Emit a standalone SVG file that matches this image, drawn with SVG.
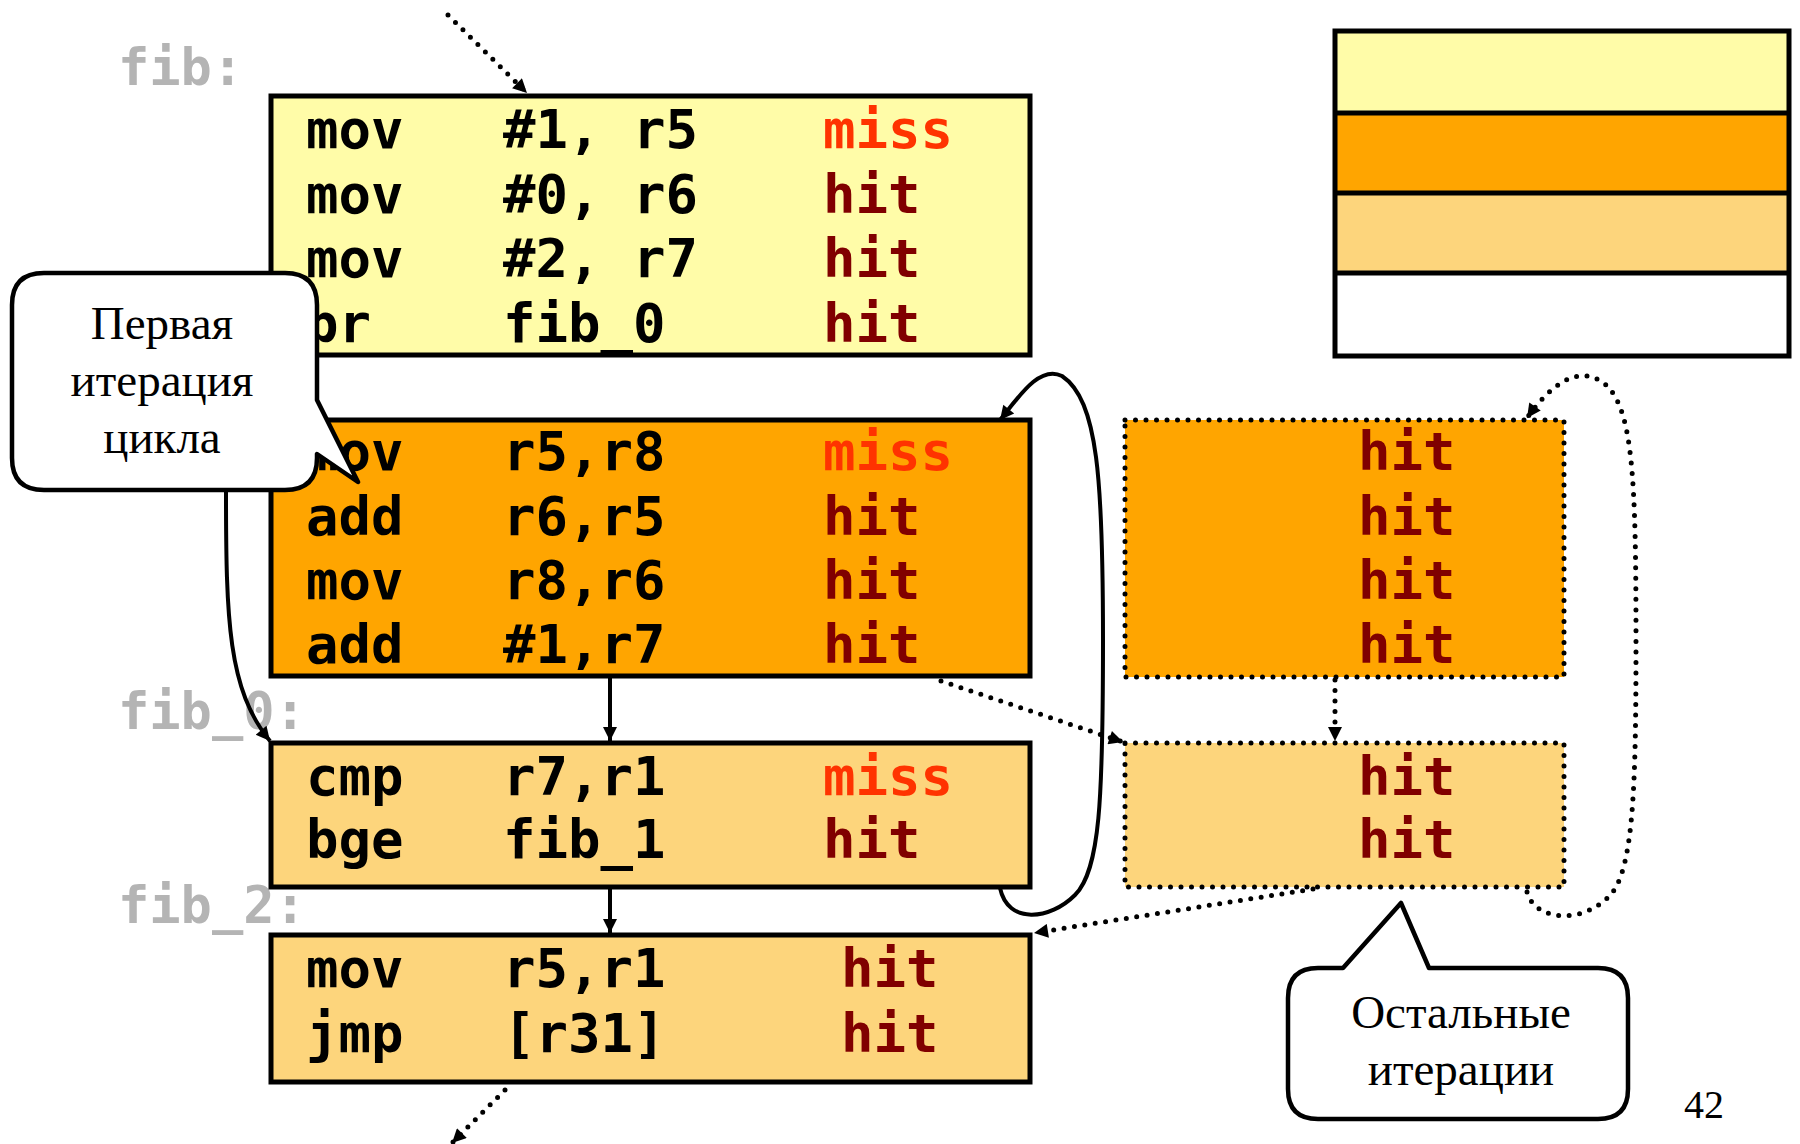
<svg xmlns="http://www.w3.org/2000/svg" width="1800" height="1144" viewBox="0 0 1800 1144">
<style>
.code{font-family:"DejaVu Sans Mono","Liberation Mono",monospace;font-weight:bold;font-size:54px;fill:#000}
.hit{fill:#800000}
.miss{fill:#ff3300}
.lbl{font-family:"DejaVu Sans Mono","Liberation Mono",monospace;font-weight:bold;font-size:52px;fill:#b4b4b4}
.box{stroke:#000;stroke-width:5}
.yel{fill:#fffca8}
.org{fill:#ffa500}
.lor{fill:#fdd57c}
.dbox{stroke:#000;stroke-width:5;stroke-dasharray:0 10.5;stroke-linecap:round}
.dot{fill:none;stroke:#000;stroke-width:5;stroke-dasharray:0 10.5;stroke-linecap:round}
.solid{fill:none;stroke:#000;stroke-width:4}
.callout{fill:#fff;stroke:#000;stroke-width:4.5;stroke-linejoin:round}
.ctext{font-family:"Liberation Serif","Times New Roman",serif;font-size:47px;text-anchor:middle;fill:#000}
</style>
<defs>
<marker id="ah" viewBox="0 0 10 10" refX="10" refY="5" markerWidth="17" markerHeight="14" markerUnits="userSpaceOnUse" orient="auto">
<path d="M0,0 L10,5 L0,10 z" fill="#000"/>
</marker>
</defs>

<g id="labels">
<text class="lbl" x="118" y="85">fib:</text>
<text class="lbl" x="118" y="729">fib_0:</text>
<text class="lbl" x="118" y="923">fib_2:</text>
</g>

<g id="block1">
<rect class="box yel" x="271" y="96" width="759" height="259"/>
<text class="code" x="306" y="148">mov</text><text class="code" x="503" y="148">#1, r5</text><text class="code miss" x="823" y="148">miss</text>
<text class="code" x="306" y="213">mov</text><text class="code" x="503" y="213">#0, r6</text><text class="code hit" x="823" y="213">hit</text>
<text class="code" x="306" y="277">mov</text><text class="code" x="503" y="277">#2, r7</text><text class="code hit" x="823" y="277">hit</text>
<text class="code" x="306" y="342">br</text><text class="code" x="503" y="342">fib_0</text><text class="code hit" x="823" y="342">hit</text>
</g>

<g id="block2">
<rect class="box org" x="271" y="420" width="759" height="256"/>
<text class="code" x="306" y="470">mov</text><text class="code" x="503" y="470">r5,r8</text><text class="code miss" x="823" y="470">miss</text>
<text class="code" x="306" y="535">add</text><text class="code" x="503" y="535">r6,r5</text><text class="code hit" x="823" y="535">hit</text>
<text class="code" x="306" y="599">mov</text><text class="code" x="503" y="599">r8,r6</text><text class="code hit" x="823" y="599">hit</text>
<text class="code" x="306" y="663">add</text><text class="code" x="503" y="663">#1,r7</text><text class="code hit" x="823" y="663">hit</text>
</g>

<g id="block3">
<rect class="box lor" x="271" y="743" width="759" height="144"/>
<text class="code" x="306" y="795">cmp</text><text class="code" x="503" y="795">r7,r1</text><text class="code miss" x="823" y="795">miss</text>
<text class="code" x="306" y="858">bge</text><text class="code" x="503" y="858">fib_1</text><text class="code hit" x="823" y="858">hit</text>
</g>

<g id="block4">
<rect class="box lor" x="271" y="935" width="759" height="147"/>
<text class="code" x="306" y="987">mov</text><text class="code" x="503" y="987">r5,r1</text><text class="code hit" x="841" y="987">hit</text>
<text class="code" x="306" y="1052">jmp</text><text class="code" x="503" y="1052">[r31]</text><text class="code hit" x="841" y="1052">hit</text>
</g>

<g id="loop-body">
<rect class="dbox org" x="1125" y="420" width="439" height="257"/>
<text class="code hit" x="1358" y="470">hit</text>
<text class="code hit" x="1358" y="535">hit</text>
<text class="code hit" x="1358" y="599">hit</text>
<text class="code hit" x="1358" y="663">hit</text>
</g>

<g id="loop-test">
<rect class="dbox lor" x="1125" y="743" width="439" height="144"/>
<text class="code hit" x="1358" y="795">hit</text>
<text class="code hit" x="1358" y="858">hit</text>
</g>

<g id="legend">
<rect class="yel" x="1335" y="31" width="454" height="82"/>
<rect class="org" x="1335" y="113" width="454" height="80"/>
<rect class="lor" x="1335" y="193" width="454" height="80"/>
<rect fill="#fff" x="1335" y="273" width="454" height="83"/>
<line class="box" x1="1335" y1="113" x2="1789" y2="113"/>
<line class="box" x1="1335" y1="193" x2="1789" y2="193"/>
<line class="box" x1="1335" y1="273" x2="1789" y2="273"/>
<rect class="box" fill="none" x="1335" y="31" width="454" height="325"/>
</g>

<g id="connectors">
<path class="dot" d="M448 15 L527 93" marker-end="url(#ah)"/>
<path class="solid" d="M610 678 L610 741" marker-end="url(#ah)"/>
<path class="solid" d="M610 889 L610 933" marker-end="url(#ah)"/>
<path class="dot" d="M505 1090 L452 1143" marker-end="url(#ah)"/>
<path class="solid" d="M1000 888 C1008 925 1050 920 1075 895 C1100 870 1103 800 1103 640 C1103 480 1098 400 1062 376 C1040 365 1020 395 1000 420" marker-end="url(#ah)"/>
<path class="dot" d="M941 681 L1123 742" marker-end="url(#ah)"/>
<path class="dot" d="M1335 680 L1335 741" marker-end="url(#ah)"/>
<path class="dot" d="M1313 889 L1034 933" marker-end="url(#ah)"/>
<path class="dot" d="M1527 892 C1535 922 1585 925 1612 893 C1634 865 1636 780 1636 640 C1636 480 1633 410 1606 385 C1580 362 1550 385 1527 418" marker-end="url(#ah)"/>
<path class="solid" d="M226 491 C226 620 228 690 270 741" marker-end="url(#ah)"/>
</g>

<g id="callout-first">
<path class="callout" d="M44 273 H285 Q317 273 317 305 V400 L358 482 L317 454 V458 Q317 490 285 490 H44 Q12 490 12 458 V305 Q12 273 44 273 Z"/>
<text class="ctext" x="162" y="339">Первая</text>
<text class="ctext" x="162" y="396">итерация</text>
<text class="ctext" x="162" y="453">цикла</text>
</g>

<g id="callout-rest">
<path class="callout" d="M1318 968 H1343 L1401 903 L1429 968 H1598 Q1628 968 1628 998 V1089 Q1628 1119 1598 1119 H1318 Q1288 1119 1288 1089 V998 Q1288 968 1318 968 Z"/>
<text class="ctext" x="1461" y="1028">Остальные</text>
<text class="ctext" x="1461" y="1085">итерации</text>
</g>

<text x="1684" y="1118" font-family="Liberation Serif, serif" font-size="40" fill="#000">42</text>
</svg>
